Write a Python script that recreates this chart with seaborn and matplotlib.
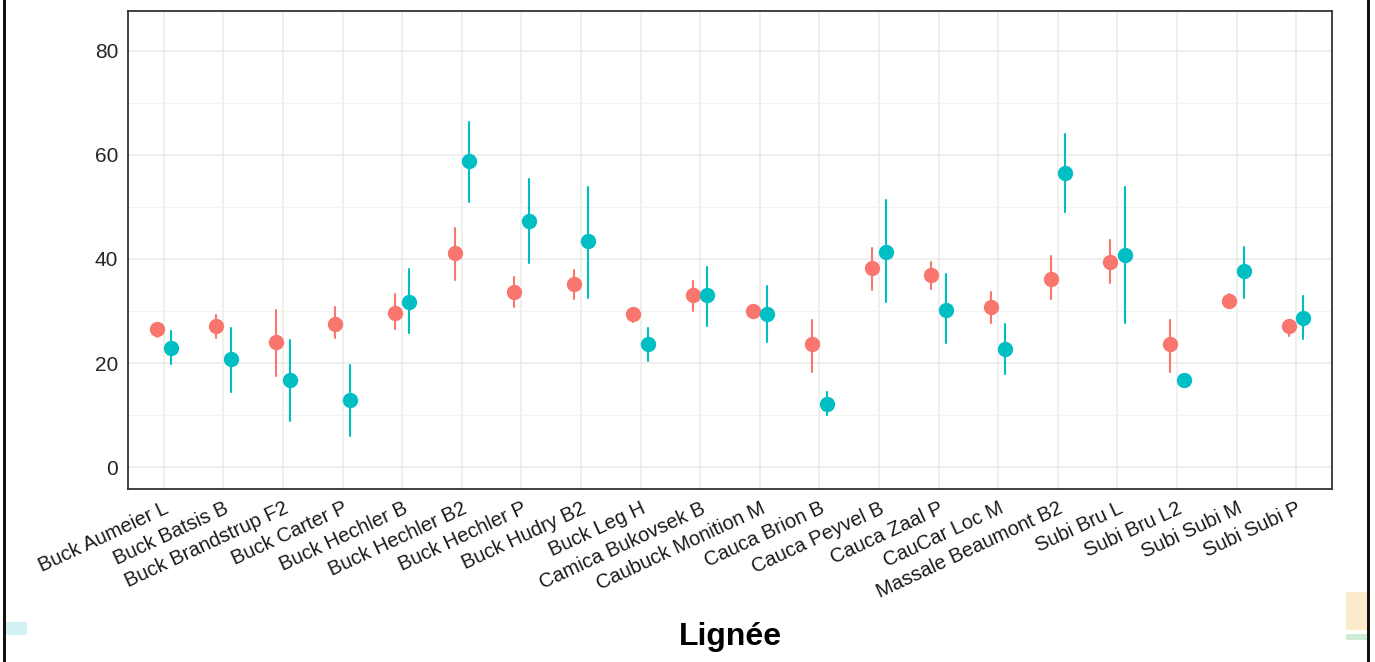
"""
plot.py - moyennes par lignée avec intervalles (deux groupes), style ggplot theme_bw
"""

import matplotlib
matplotlib.use("Agg")
import matplotlib.pyplot as plt
from matplotlib.patches import Rectangle
from matplotlib.ticker import MultipleLocator
import pandas as pd
import seaborn as sns

# ─── Données ──────────────────────────────────────────────────────────────────
lignees = [
    "Buck Aumeier L", "Buck Batsis B", "Buck Brandstrup F2", "Buck Carter P",
    "Buck Hechler B", "Buck Hechler B2", "Buck Hechler P", "Buck Hudry B2",
    "Buck Leg H", "Camica Bukovsek B", "Caubuck Monition M", "Cauca Brion B",
    "Cauca Peyvel B", "Cauca Zaal P", "CauCar Loc M", "Massale Beaumont B2",
    "Subi Bru L", "Subi Bru L2", "Subi Subi M", "Subi Subi P",
]
groupes = ["G1", "G2"]

g1_moy = [26.5, 27.1, 24.0, 27.6, 29.7, 41.1, 33.6, 35.2, 29.4, 33.0,
          30.1, 23.6, 38.2, 36.9, 30.7, 36.2, 39.4, 23.6, 32.0, 27.1]
g1_bas = [25.0, 24.9, 17.5, 24.9, 26.5, 36.0, 30.7, 32.3, 27.9, 30.1,
          28.9, 18.4, 34.0, 34.2, 27.8, 32.3, 35.3, 18.4, 30.5, 25.2]
g1_haut = [27.8, 29.2, 30.2, 30.8, 33.3, 45.9, 36.5, 37.8, 30.5, 35.8,
           31.2, 28.3, 42.1, 39.5, 33.6, 40.5, 43.7, 28.3, 33.3, 28.3]

g2_moy = [23.0, 20.8, 16.7, 12.9, 31.7, 58.8, 47.3, 43.4, 23.6, 33.0,
          29.4, 12.2, 41.4, 30.3, 22.7, 56.5, 40.8, 16.7, 37.6, 28.7]
g2_bas = [19.8, 14.5, 9.0, 6.1, 25.7, 50.9, 39.3, 32.6, 20.4, 27.1,
          24.0, 10.0, 31.8, 23.8, 17.9, 49.0, 27.8, 15.8, 32.6, 24.7]
g2_haut = [26.2, 26.7, 24.5, 19.7, 38.1, 66.3, 55.4, 53.8, 26.7, 38.4,
           34.8, 14.5, 51.3, 37.1, 27.6, 63.9, 53.8, 17.6, 42.3, 32.9]

couleurs = ["#F8766D", "#00BFC4"]

# ─── Mise en forme longue : (bas, moyenne, haut) → médiane + intervalle 100 % ─
lignes = []
for g, moy, bas, haut in [("G1", g1_moy, g1_bas, g1_haut),
                          ("G2", g2_moy, g2_bas, g2_haut)]:
    for lig, m, b, h in zip(lignees, moy, bas, haut):
        for v in (b, m, h):
            lignes.append({"lignee": lig, "groupe": g, "valeur": v})
df = pd.DataFrame(lignes)

# ─── Figure ───────────────────────────────────────────────────────────────────
sns.set_theme(style="white")
plt.rcParams["font.family"] = ["Liberation Sans", "DejaVu Sans"]

fig = plt.figure(figsize=(13.75, 6.62), dpi=100)
ax = fig.add_axes([0.0931, 0.2613, 0.8756, 0.7221])

ax.set_axisbelow(True)
ax.yaxis.set_major_locator(MultipleLocator(20))
ax.yaxis.set_minor_locator(MultipleLocator(10))

sns.pointplot(data=df, x="lignee", y="valeur", hue="groupe",
              order=lignees, hue_order=groupes, palette=couleurs,
              estimator="median", errorbar=("pi", 100),
              dodge=0.24, linestyle="none", markers="o",
              markersize=9, err_kws={"linewidth": 1.5},
              legend=False, ax=ax)

ax.set_xlim(-0.6, len(lignees) - 0.4)
ax.set_ylim(-4.15, 87.6)

ax.grid(which="major", axis="both", color="#EBEBEB", linewidth=1.1)
ax.grid(which="minor", axis="y", color="#F2F2F2", linewidth=0.7)

for s in ax.spines.values():
    s.set_color("#333333")
    s.set_linewidth(1.3)

ax.tick_params(axis="both", which="major", length=4, width=1.1,
               color="#333333", direction="out")
ax.tick_params(axis="y", which="minor", length=0)
ax.tick_params(axis="y", labelsize=15, labelcolor="#262626", pad=3)
ax.tick_params(axis="x", labelsize=14.5, labelcolor="#1A1A1A", pad=3)
ax.set_xticks(range(len(lignees)))
ax.set_xticklabels(lignees, rotation=25, ha="right", rotation_mode="anchor")

ax.set_ylabel("")
ax.set_xlabel("Lignée", fontsize=23, fontweight="bold", color="black")
ax.xaxis.set_label_coords(0.5, -0.31)
ax.xaxis.label.set_va("center")

# ─── Cadre et traces de la capture d'écran d'origine ─────────────────────────
W, H = 1375, 662


def rect_px(x0, y0, x1, y1, color):
    fig.add_artist(Rectangle((x0 / W, 1 - y1 / H), (x1 - x0) / W, (y1 - y0) / H,
                             transform=fig.transFigure, color=color, lw=0))


rect_px(3, 0, 6, H, "#111111")
rect_px(1367, 0, 1370, H, "#111111")
rect_px(6, 622, 27, 635, "#D3F0F5")
rect_px(1346, 592, 1367, 630, "#FCEBCB")
rect_px(1346, 634, 1367, 640, "#CFEBD6")

fig.savefig("out.png", dpi=100)
plt.close(fig)
